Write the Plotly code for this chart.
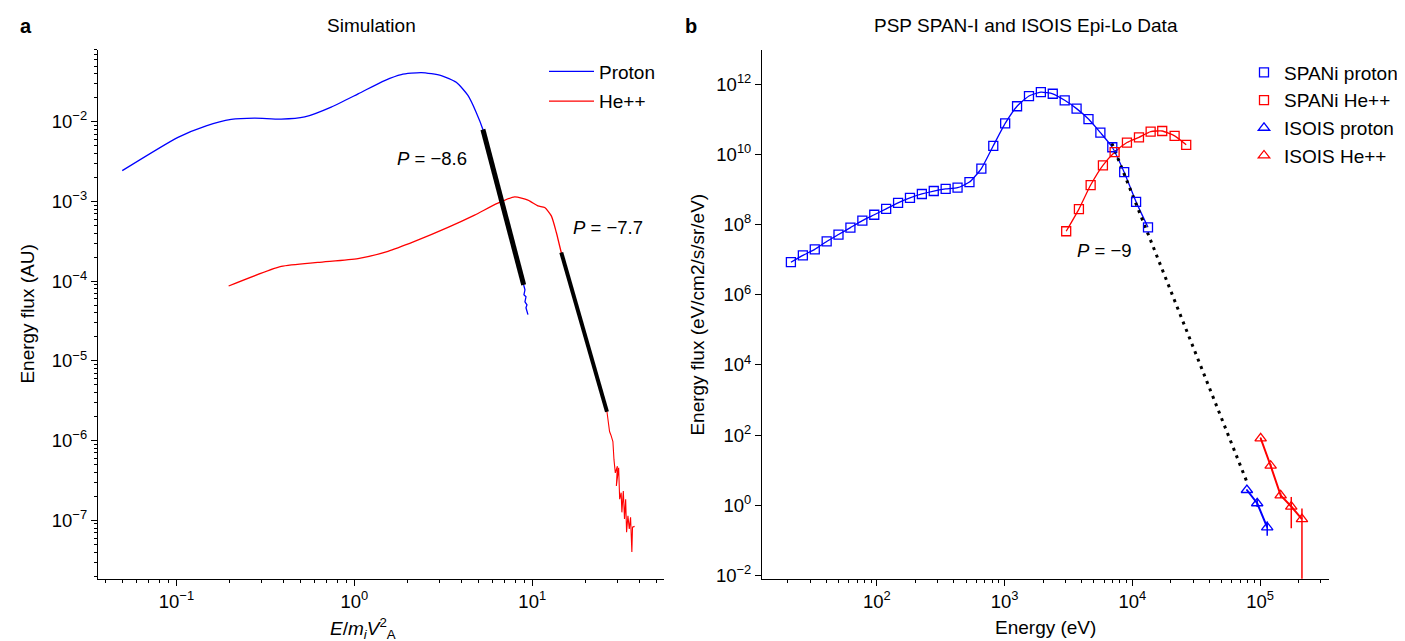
import plotly.graph_objects as go

W, H = 1405, 641

# ---------------- Panel a : Simulation ----------------
proton_x = [0.0496, 0.102, 0.147, 0.203, 0.275, 0.388, 0.526, 0.741, 1.05, 1.48, 1.835,
            2.38, 3.08, 3.74, 4.35, 4.83, 5.28, 6.84, 8.95]
proton_y = [2.44e-3, 6.38e-3, 8.9e-3, 1.069e-2, 1.11e-2, 1.08e-2, 1.15e-2, 1.53e-2, 2.24e-2,
            3.29e-2, 3.91e-2, 4.14e-2, 3.80e-2, 3.13e-2, 2.14e-2, 1.33e-2, 8.0e-3, 8.7e-4, 8.97e-5]
proton_tail_x = [8.95, 9.1, 8.98, 9.22, 9.1, 9.34, 9.22, 9.46]
proton_tail_y = [8.97e-5, 7.8e-5, 6.75e-5, 6.37e-5, 5.52e-5, 5.06e-5, 4.64e-5, 3.8e-5]

he_x = [0.1965, 0.388, 0.624, 1.048, 1.545, 2.18, 3.36, 4.74, 6.41, 7.96, 9.46, 10.77,
        11.75, 12.8, 13.65, 14.56, 26.3]
he_y = [8.71e-5, 1.53e-4, 1.72e-4, 1.92e-4, 2.37e-4, 3.16e-4, 4.74e-4, 6.76e-4, 9.53e-4,
        1.14e-3, 1.04e-3, 8.8e-4, 8.4e-4, 6.6e-4, 4.11e-4, 2.29e-4, 2.30e-6]
he_tail_x = [26.3, 27.2, 27.7, 28.4, 28.8, 29.3, 30.1, 29.7, 30.6, 31.0, 31.6, 31.9, 32.5,
             33.0, 33.5, 33.9, 34.5, 35.1, 35.7, 36.0, 36.3, 36.6, 37.6]
he_tail_y = [2.30e-6, 1.30e-6, 1.17e-6, 9.75e-7, 5.77e-7, 3.94e-7, 4.78e-7, 2.70e-7, 4.55e-7,
             1.84e-7, 2.22e-7, 1.26e-7, 2.33e-7, 1.04e-7, 1.84e-7, 7.1e-8, 1.14e-7, 7.8e-8,
             1.09e-7, 7.8e-8, 4.0e-8, 8.2e-8, 8.4e-8]

fit_proton_x = [5.28, 8.95]
fit_proton_y = [8.0e-3, 8.97e-5]
fit_he_x = [14.56, 26.3]
fit_he_y = [2.29e-4, 2.30e-6]

# ---------------- Panel b : PSP data ----------------
spani_p_E = [21.2, 26.3, 32.6, 40.4, 50.0, 62.0, 76.9, 95.3, 118.1, 146.4, 181.4, 224.8,
             278.6, 345.3, 427.9, 530.3, 657.3, 814.7, 1009.7, 1251, 1551, 1922, 2382,
             2953, 3659, 4535, 5620, 6966, 8633, 10700, 13262]
spani_p_F = [8.53e6, 1.34e7, 1.99e7, 3.34e7, 5.26e7, 8.30e7, 1.31e8, 1.93e8, 2.85e8, 4.21e8,
             5.82e8, 7.55e8, 9.18e8, 1.05e9, 1.14e9, 1.65e9, 4.02e9, 1.79e10, 7.78e10,
             2.41e11, 4.71e11, 6.10e11, 5.47e11, 3.56e11, 2.06e11, 1.04e11, 4.25e10,
             1.63e10, 3.16e9, 4.50e8, 8.45e7]

spani_he_E = [3034, 3817, 4715, 5884, 7265, 9075, 11270, 13910, 17140, 21430, 26420]
spani_he_F = [6.52e7, 2.80e8, 1.36e9, 4.98e9, 1.18e10, 2.22e10, 3.13e10, 4.54e10, 4.74e10,
              3.43e10, 1.91e10]

isois_p_E = [78900, 95000, 113800]
isois_p_F = [2.70, 1.13, 0.233]
isois_p_err_up = [0.15, 0.35, 0.11]
isois_p_err_dn = [0.15, 0.25, 0.10]

isois_he_E = [101100, 121100, 145000, 175600, 212900]
isois_he_F = [80.7, 13.3, 1.90, 0.91, 0.40]
isois_he_err_up = [5.0, 1.5, 0.3, 0.80, 0.40]
isois_he_err_dn = [5.0, 1.5, 0.3, 0.69, 0.3999]

fit_b_E = [6918, 80350]
fit_b_F = [2.12e10, 3.88]

# tick decades
a_x_exps = [-1, 0, 1]
a_y_exps = [-7, -6, -5, -4, -3, -2]
b_x_exps = [2, 3, 4, 5]
b_y_exps = [-2, 0, 2, 4, 6, 8, 10, 12]

BLUE = "#0000ff"
RED = "#ff0000"
FONT = "Liberation Sans, Arial, Helvetica, sans-serif"
TXT = 19
TICK = 18.5

fig = go.Figure()

# panel a traces
fig.add_trace(go.Scatter(x=proton_x, y=proton_y, mode="lines", name="Proton",
                         line=dict(color=BLUE, width=1.3, shape="spline", smoothing=0.6),
                         xaxis="x", yaxis="y", legend="legend", legendgroup="p"))
fig.add_trace(go.Scatter(x=proton_tail_x, y=proton_tail_y, mode="lines", showlegend=False,
                         line=dict(color=BLUE, width=1.3), xaxis="x", yaxis="y"))
fig.add_trace(go.Scatter(x=he_x, y=he_y, mode="lines", name="He++",
                         line=dict(color=RED, width=1.3, shape="spline", smoothing=0.6),
                         xaxis="x", yaxis="y", legend="legend", legendgroup="h"))
fig.add_trace(go.Scatter(x=he_tail_x, y=he_tail_y, mode="lines", showlegend=False,
                         line=dict(color=RED, width=1.1), xaxis="x", yaxis="y"))
fig.add_trace(go.Scatter(x=fit_proton_x, y=fit_proton_y, mode="lines", showlegend=False,
                         line=dict(color="black", width=5), xaxis="x", yaxis="y"))
fig.add_trace(go.Scatter(x=fit_he_x, y=fit_he_y, mode="lines", showlegend=False,
                         line=dict(color="black", width=4), xaxis="x", yaxis="y"))

# panel b traces
fig.add_trace(go.Scatter(x=spani_p_E, y=spani_p_F, mode="lines", showlegend=False,
                         line=dict(color=BLUE, width=1.3, shape="spline", smoothing=0.5),
                         xaxis="x2", yaxis="y2"))
fig.add_trace(go.Scatter(x=spani_he_E, y=spani_he_F, mode="lines", showlegend=False,
                         line=dict(color=RED, width=1.3, shape="spline", smoothing=0.5),
                         xaxis="x2", yaxis="y2"))
fig.add_trace(go.Scatter(x=fit_b_E, y=fit_b_F, mode="lines", showlegend=False,
                         line=dict(color="black", width=3, dash="3px,5px"),
                         xaxis="x2", yaxis="y2"))
fig.add_trace(go.Scatter(x=isois_p_E, y=isois_p_F, mode="lines", showlegend=False,
                         line=dict(color=BLUE, width=2), xaxis="x2", yaxis="y2"))
fig.add_trace(go.Scatter(x=isois_he_E, y=isois_he_F, mode="lines", showlegend=False,
                         line=dict(color=RED, width=2), xaxis="x2", yaxis="y2"))

fig.add_trace(go.Scatter(x=spani_p_E, y=spani_p_F, mode="markers", name="SPANi proton",
                         marker=dict(symbol="square-open", size=9, color=BLUE, line=dict(width=1.3)),
                         xaxis="x2", yaxis="y2", legend="legend2", legendgroup="a"))
fig.add_trace(go.Scatter(x=spani_he_E, y=spani_he_F, mode="markers", name="SPANi He++",
                         marker=dict(symbol="square-open", size=9, color=RED, line=dict(width=1.3)),
                         xaxis="x2", yaxis="y2", legend="legend2", legendgroup="b"))
fig.add_trace(go.Scatter(x=isois_p_E, y=isois_p_F, mode="markers", name="ISOIS proton",
                         marker=dict(symbol="triangle-up-open", size=10, color=BLUE, line=dict(width=1.3)),
                         error_y=dict(type="data", array=isois_p_err_up, arrayminus=isois_p_err_dn,
                                      color=BLUE, thickness=1.5, width=0),
                         xaxis="x2", yaxis="y2", legend="legend2", legendgroup="c"))
fig.add_trace(go.Scatter(x=isois_he_E, y=isois_he_F, mode="markers", name="ISOIS He++",
                         marker=dict(symbol="triangle-up-open", size=10, color=RED, line=dict(width=1.3)),
                         error_y=dict(type="data", array=isois_he_err_up, arrayminus=isois_he_err_dn,
                                      color=RED, thickness=1.5, width=0),
                         xaxis="x2", yaxis="y2", legend="legend2", legendgroup="d"))


def px_x(p):
    return p / W


def px_y(p):
    return 1 - p / H


def major(exps):
    vals = [10.0 ** e for e in exps]
    text = ["10<sup>" + str(e).replace("-", "−") + "</sup>" for e in exps]
    return dict(tickmode="array", tickvals=vals, ticktext=text)


def minor_vals(lo, hi):
    return [m * 10.0 ** e for e in range(lo, hi) for m in range(2, 10)]


axis_common = dict(type="log", showline=True, linecolor="black", linewidth=1, ticks="outside",
                   ticklen=6, tickwidth=1, tickcolor="black", showgrid=False, zeroline=False,
                   tickfont=dict(size=TICK, family=FONT, color="black"))


def minor_on(lo, hi):
    return dict(ticks="outside", ticklen=3, tickwidth=1, tickcolor="black", showgrid=False,
                tickmode="array", tickvals=minor_vals(lo, hi))


PLOT_TOP, PLOT_BOT = 42, 577

fig.update_layout(
    width=W, height=H, margin=dict(l=0, r=0, t=0, b=0),
    paper_bgcolor="white", plot_bgcolor="white",
    font=dict(family=FONT, size=TXT, color="black"),
    xaxis=dict(axis_common, **major(a_x_exps), domain=[px_x(89.8), px_x(655.9)],
               range=[-1.442, 1.74], anchor="y", minor=minor_on(-2, 2)),
    yaxis=dict(axis_common, **major(a_y_exps), domain=[px_y(PLOT_BOT), px_y(PLOT_TOP)],
               range=[-7.732, -1.094], anchor="x", minor=minor_on(-8, -1)),
    xaxis2=dict(axis_common, **major(b_x_exps), domain=[px_x(754), px_x(1321)],
                range=[1.10, 5.54], anchor="y2", minor=minor_on(1, 6)),
    yaxis2=dict(axis_common, **major(b_y_exps), domain=[px_y(PLOT_BOT), px_y(PLOT_TOP)],
                range=[-2.1, 13.0], anchor="x2"),
    legend=dict(x=px_x(536), y=px_y(45), xanchor="left", yanchor="top", bgcolor="rgba(0,0,0,0)",
                font=dict(size=TXT), tracegroupgap=2, itemwidth=45),
    legend2=dict(x=px_x(1236), y=px_y(46), xanchor="left", yanchor="top", bgcolor="rgba(0,0,0,0)",
                 font=dict(size=TXT), tracegroupgap=0),
    showlegend=True,
)

ann = [
    dict(text="<b>a</b>", x=px_x(18), y=px_y(18), font=dict(size=20)),
    dict(text="<b>b</b>", x=px_x(683), y=px_y(18), font=dict(size=20)),
    dict(text="Simulation", x=px_x(363), y=px_y(18)),
    dict(text="PSP SPAN-I and ISOIS Epi-Lo Data", x=px_x(1018), y=px_y(18)),
    dict(text="<i>P</i> = −8.6", x=px_x(424), y=px_y(152), font=dict(size=18.5)),
    dict(text="<i>P</i> = −7.7", x=px_x(600), y=px_y(222), font=dict(size=18.5)),
    dict(text="<i>P</i> = −9", x=px_x(1096), y=px_y(245), font=dict(size=18.5)),
    dict(text="Energy flux (AU)", x=px_x(20), y=px_y(310), textangle=-90),
    dict(text="Energy flux (eV/cm2/s/sr/eV)", x=px_x(690), y=px_y(310), textangle=-90),
    dict(text="<i>E</i>/<i>m<sub>i</sub>V</i><sup>2</sup><sub>A</sub>", x=px_x(355), y=px_y(627)),
    dict(text="Energy (eV)", x=px_x(1037), y=px_y(626)),
]
for a in ann:
    a.setdefault("font", dict(size=TXT))
    a["font"].setdefault("size", TXT)
    a["font"]["family"] = FONT
    a["font"]["color"] = "black"
    fig.add_annotation(xref="paper", yref="paper", showarrow=False, xanchor="center",
                       yanchor="middle", **a)

fig.write_html("out.html")
